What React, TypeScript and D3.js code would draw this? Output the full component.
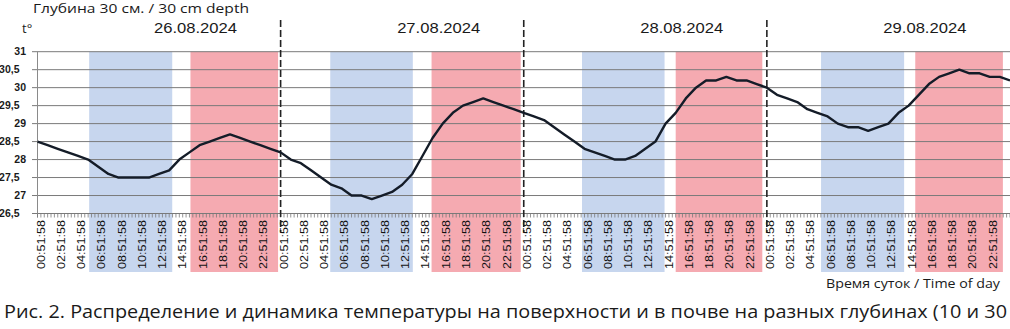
import * as d3 from "d3";

// hourly readings at hh:51:58, 26.08 00:51:58 .. 30.08 00:51:58
const day1 = [28.5, 28.4, 28.3, 28.2, 28.1, 28.0, 27.8, 27.6, 27.5, 27.5, 27.5, 27.5, 27.6, 27.7, 28.0, 28.2, 28.4, 28.5, 28.6, 28.7, 28.6, 28.5, 28.4, 28.3];
const day2 = [28.2, 28.0, 27.9, 27.7, 27.5, 27.3, 27.2, 27.0, 27.0, 26.9, 27.0, 27.1, 27.3, 27.6, 28.1, 28.6, 29.0, 29.3, 29.5, 29.6, 29.7, 29.6, 29.5, 29.4];
const day3 = [29.3, 29.2, 29.1, 28.9, 28.7, 28.5, 28.3, 28.2, 28.1, 28.0, 28.0, 28.1, 28.3, 28.5, 29.0, 29.3, 29.7, 30.0, 30.2, 30.2, 30.3, 30.2, 30.2, 30.1];
const day4 = [30.0, 29.8, 29.7, 29.6, 29.4, 29.3, 29.2, 29.0, 28.9, 28.9, 28.8, 28.9, 29.0, 29.3, 29.5, 29.8, 30.1, 30.3, 30.4, 30.5, 30.4, 30.4, 30.3, 30.3, 30.2];

const dates = ["26.08.2024", "27.08.2024", "28.08.2024", "29.08.2024"];
const timeLabels = ["00:51:58", "02:51:58", "04:51:58", "06:51:58", "08:51:58", "10:51:58", "12:51:58", "14:51:58", "16:51:58", "18:51:58", "20:51:58", "22:51:58"];
const yTicks = [26.5, 27, 27.5, 28, 28.5, 29, 29.5, 30, 30.5, 31];

// shaded periods, in hours from the day's first reading
const blueBands = [[5.1, 13.3], [4.9, 13.05], [5.75, 13.9], [5.35, 13.55]];
const redBands = [[15.1, 23.75], [14.9, 23.7], [15.0, 23.55], [14.65, 23.3]];

const temps = [...day1, ...day2, ...day3, ...day4];

const W = 1010;
const H = 329;

export default function App() {
  const x = d3.scaleLinear().domain([0, 96]).range([37.5, 37.5 + 96 * 10.13]);
  const y = d3.scaleLinear().domain([26.5, 31]).range([213.5, 51.7]);

  const line = d3
    .line<number>()
    .x((_, i) => x(i))
    .y((d) => y(d));

  const minorTicks = d3.range(0, 96 * 3 + 1).map((k) => k / 3);
  const font = "'Liberation Sans', Arial, sans-serif";
  const capFont = "'Open Sans', sans-serif";
  const fmt = (v) => String(v).replace(".", ",");

  return (
    <svg
      width={W}
      height={H}
      style={{ position: "absolute", left: 0, top: 0, background: "#fff" }}
    >
      {dates.map((d, i) => (
        <g key={d}>
          <rect
            x={x(24 * i + blueBands[i][0])}
            y={y(31)}
            width={x(blueBands[i][1]) - x(blueBands[i][0])}
            height={272 - y(31)}
            fill="#c7d6ee"
          />
          <rect
            x={x(24 * i + redBands[i][0])}
            y={y(31)}
            width={x(redBands[i][1]) - x(redBands[i][0])}
            height={272 - y(31)}
            fill="#f5aab1"
          />
        </g>
      ))}

      {yTicks.map((t) => (
        <line key={t} x1={32} x2={W} y1={y(t)} y2={y(t)} stroke="#7a7a7a" strokeWidth={1} />
      ))}
      <line x1={37.5} x2={37.5} y1={y(31)} y2={y(26.5) + 4} stroke="#8a8a8a" />
      {minorTicks.map((t) => (
        <line key={t} x1={x(t)} x2={x(t)} y1={y(26.5)} y2={y(26.5) + 4} stroke="#7a7a7a" strokeWidth={0.8} />
      ))}

      {yTicks.map((t) => (
        <text
          key={t}
          x={Number.isInteger(t) ? 26 : 19.5}
          y={y(t)}
          dy="0.35em"
          textAnchor="end"
          fontFamily={font}
          fontWeight="bold"
          fontSize={10.5}
          fill="#1a1a1a"
        >
          {fmt(t)}
        </text>
      ))}

      {dates.map((d, i) =>
        timeLabels.map((lab, k) => (
          <text
            key={d + lab}
            transform={`translate(${x(24 * i + 2 * k) + 3},220) rotate(-90)`}
            dy="0.35em"
            textAnchor="end"
            fontFamily={font}
            fontSize={11.5}
            textLength={49}
            lengthAdjust="spacingAndGlyphs"
            fill="#111"
          >
            {lab}
          </text>
        ))
      )}

      {[1, 2, 3].map((i) => (
        <line
          key={i}
          x1={x(24 * i)}
          x2={x(24 * i)}
          y1={20}
          y2={232}
          stroke="#222"
          strokeWidth={1.6}
          strokeDasharray="7,3"
        />
      ))}

      <path d={line(temps) || ""} fill="none" stroke="#141c28" strokeWidth={2.4} strokeLinejoin="round" />

      {dates.map((d, i) => (
        <text
          key={d}
          x={x(24 * i + 15.6)}
          y={33}
          textAnchor="middle"
          fontFamily={font}
          fontSize={15}
          textLength={83}
          lengthAdjust="spacingAndGlyphs"
          fill="#1a1a1a"
        >
          {d}
        </text>
      ))}

      <text x={33} y={13} fontFamily={capFont} fontSize={13} textLength={216} lengthAdjust="spacingAndGlyphs" fill="#1a1a1a">
        Глубина 30 см. / 30 cm depth
      </text>
      <text x={22} y={33} fontFamily={capFont} fontSize={13} fill="#1a1a1a">
        t°
      </text>
      <text x={1000} y={288} textAnchor="end" fontFamily={capFont} fontSize={12.5} textLength={174} lengthAdjust="spacingAndGlyphs" fill="#1a1a1a">
        Время суток / Time of day
      </text>
      <text x={4} y={318} fontFamily={capFont} fontSize={19} textLength={1003} lengthAdjust="spacingAndGlyphs" fill="#1a1a1a">
        Рис. 2. Распределение и динамика температуры на поверхности и в почве на разных глубинах (10 и 30
      </text>
    </svg>
  );
}
